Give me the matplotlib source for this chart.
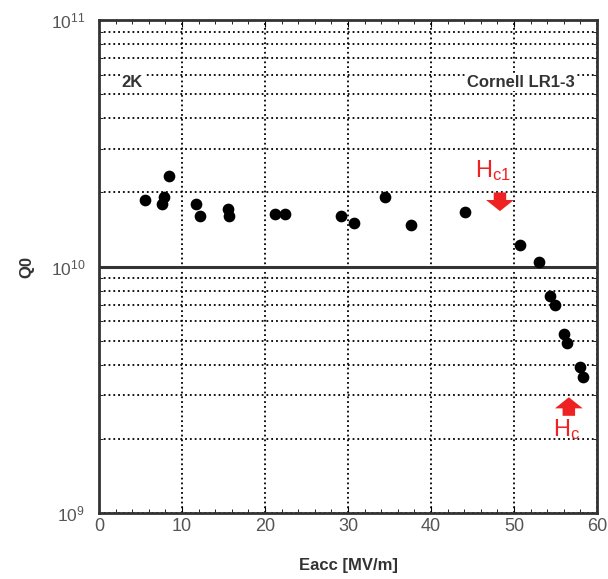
import matplotlib.pyplot as plt
from matplotlib.ticker import LogLocator, NullFormatter, MultipleLocator

plt.rcParams['font.family'] = ['Liberation Sans', 'DejaVu Sans']

# Eacc [MV/m] and Q0
eacc = [5.5, 7.6, 7.8, 8.4, 11.7, 12.2, 15.5, 15.7, 21.2, 22.4,
        29.2, 30.7, 34.5, 37.6, 44.1, 50.7, 53.0, 54.3, 54.9,
        56.0, 56.4, 58.0, 58.3]
q0 = [1.87e10, 1.80e10, 1.92e10, 2.34e10, 1.79e10, 1.60e10, 1.72e10, 1.61e10,
      1.64e10, 1.64e10, 1.61e10, 1.51e10, 1.91e10, 1.48e10, 1.67e10,
      1.22e10, 1.04e10, 7.6e9, 7.0e9, 5.35e9, 4.92e9, 3.93e9, 3.58e9]

fig = plt.figure(figsize=(6.08, 5.79), dpi=100)
ax = fig.add_axes([0.163, 0.114, 0.819, 0.851])

ax.set_yscale('log')
ax.set_xlim(0, 60)
ax.set_ylim(1e9, 1e11)

ax.xaxis.set_major_locator(MultipleLocator(10))
ax.xaxis.set_minor_locator(MultipleLocator(2))
ax.yaxis.set_major_locator(LogLocator(base=10))
ax.yaxis.set_minor_locator(LogLocator(base=10, subs=range(2, 10)))
ax.yaxis.set_minor_formatter(NullFormatter())

ax.grid(True, which='major', axis='x', linestyle=':', color='black', lw=1.3)
ax.grid(True, which='both', axis='y', linestyle=':', color='black', lw=1.3)
ax.axhline(1e10, color='#333333', lw=2.2, zorder=2)

ax.tick_params(which='both', direction='in', top=True, right=True,
               labelsize=13, labelcolor='#555555')
ax.tick_params(which='major', length=5)
ax.tick_params(which='minor', length=3)
ax.tick_params(axis='y', which='major', pad=10, labelsize=12.5)
for s in ax.spines.values():
    s.set_linewidth(2)
    s.set_color('#333333')

ax.scatter(eacc, q0, s=55, color='black', zorder=4)

ax.set_xlabel('Eacc [MV/m]', fontsize=12, fontweight='bold', color='#333333', labelpad=17)
ax.set_ylabel('Q0', fontsize=12, fontweight='bold', color='#333333', labelpad=12)

box = dict(facecolor='white', edgecolor='none', pad=1)
ax.text(0.045, 0.865, '2K', transform=ax.transAxes, fontsize=12,
        fontweight='bold', color='#333333', bbox=box)
ax.text(0.955, 0.865, 'Cornell LR1-3', transform=ax.transAxes, fontsize=12,
        fontweight='bold', color='#333333', ha='right', bbox=box)

arrow = dict(width=9, headwidth=20, headlength=8, shrink=0, color='#ee2222', lw=0)
ax.annotate('', xy=(48.3, 1.68e10), xytext=(48.3, 2.0e10), arrowprops=arrow, zorder=5)
ax.annotate('', xy=(56.6, 2.95e9), xytext=(56.6, 2.48e9), arrowprops=arrow, zorder=5)
ax.text(47.4, 2.3e10, r'$\mathregular{H_{c1}}$', color='#ee2222', fontsize=17, ha='center')
ax.text(56.3, 2.05e9, r'$\mathregular{H_{c}}$', color='#ee2222', fontsize=17, ha='center')

fig.savefig('out.png', dpi=100)
